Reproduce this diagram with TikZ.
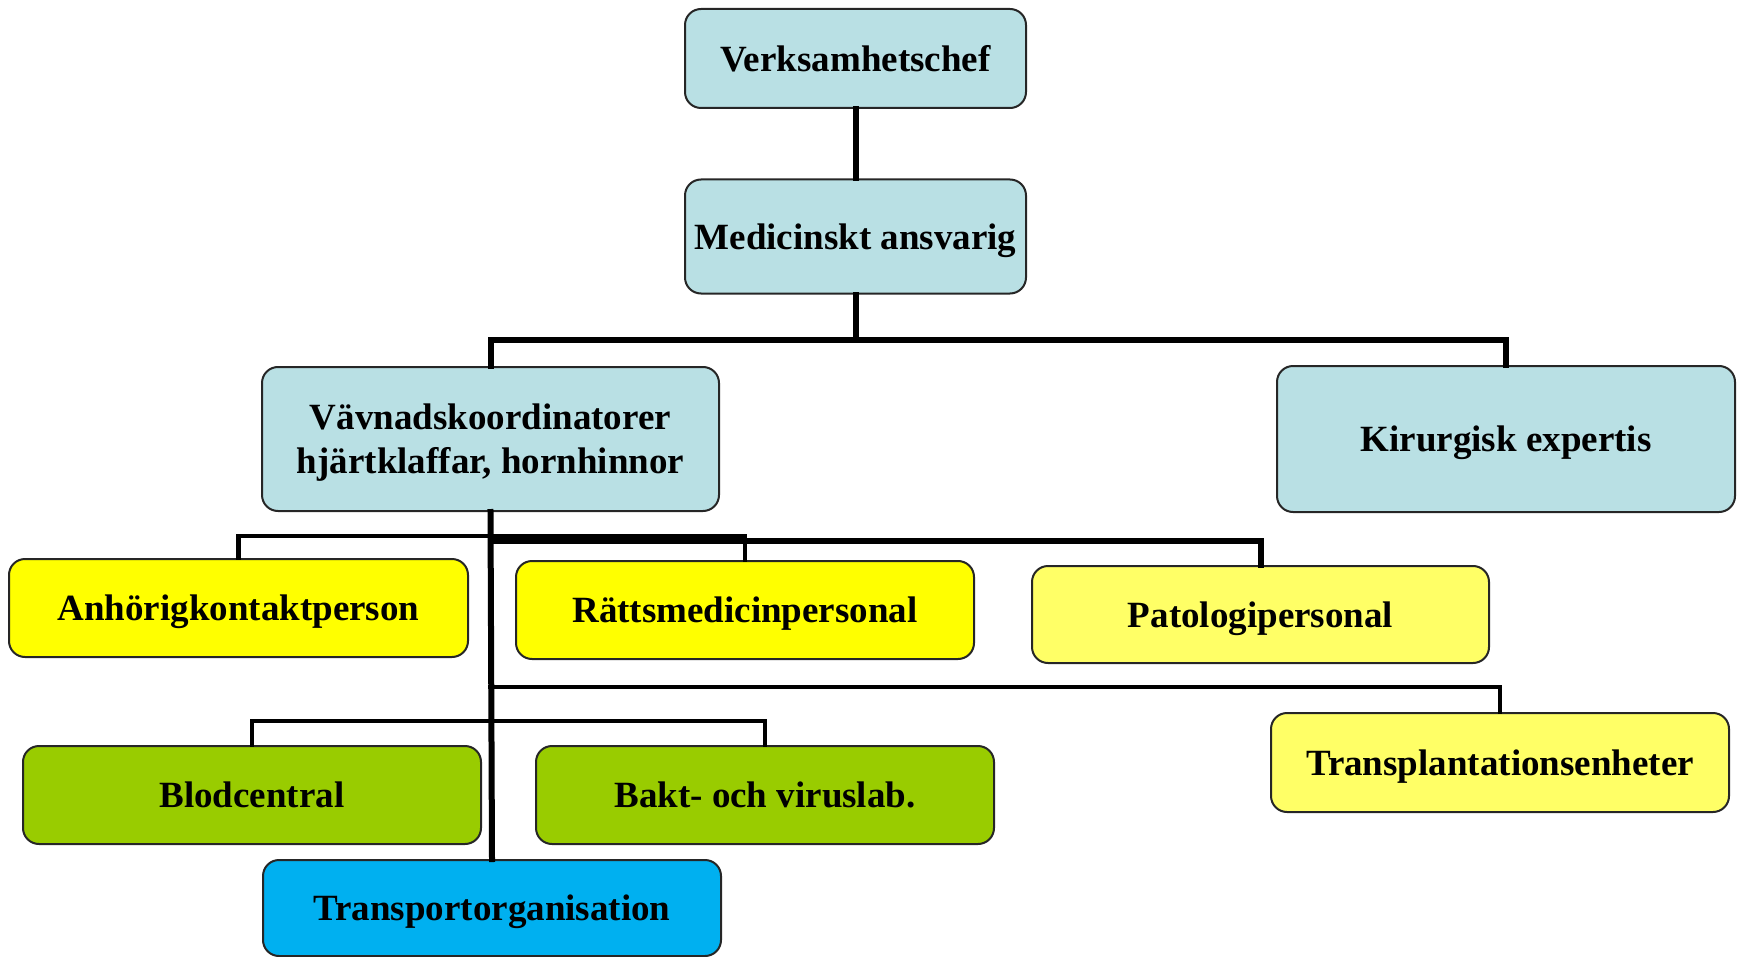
\documentclass[tikz,border=0pt]{standalone}
\usepackage{fontspec}
\setmainfont{Liberation Serif}
\definecolor{lblue}{RGB}{185,224,228}
\definecolor{yel}{RGB}{255,255,0}
\definecolor{lyel}{RGB}{255,255,102}
\definecolor{grn}{RGB}{153,204,0}
\definecolor{cyn}{RGB}{0,176,240}
\begin{document}
\begin{tikzpicture}[x=0.5pt,y=-0.5pt,
  box/.style={draw=black!85, line width=1pt, rounded corners=8pt, align=center,
    font=\fontsize{18.5pt}{22pt}\selectfont\bfseries, inner sep=0pt, text depth=0pt},
  conn/.style={line width=2.3pt, line cap=rect},
  connthick/.style={line width=3pt, line cap=rect}]
\useasboundingbox (0,0) rectangle (1739,957);
\node[box, fill=lblue, minimum width=170.5pt, minimum height=49.5pt] (vc) at (855.5,58.5) {Verksamhetschef};
\node[box, fill=lblue, minimum width=170.5pt, minimum height=57pt] (ma) at (855.5,236.5) {Medicinskt ansvarig};
\node[box, fill=lblue, minimum width=228.5pt, minimum height=72pt] (vk) at (490.5,439) {Vävnadskoordinatorer\\hjärtklaffar, hornhinnor};
\node[box, fill=lblue, minimum width=229pt, minimum height=73pt] (ke) at (1506,439) {Kirurgisk expertis};
\node[box, fill=yel, minimum width=229.5pt, minimum height=49pt] (an) at (238.5,608) {Anhörigkontaktperson};
\node[box, fill=yel, minimum width=229pt, minimum height=49pt] (rm) at (745,610) {Rättsmedicinpersonal};
\node[box, fill=lyel, minimum width=228.5pt, minimum height=48.5pt] (pa) at (1260.5,614.5) {Patologipersonal};
\node[box, fill=lyel, minimum width=229pt, minimum height=49.5pt] (tr) at (1500,762.5) {Transplantationsenheter};
\node[box, fill=grn, minimum width=229pt, minimum height=49pt] (bc) at (252,795) {Blodcentral};
\node[box, fill=grn, minimum width=229pt, minimum height=49pt] (bv) at (765,795) {Bakt- och viruslab.};
\node[box, fill=cyn, minimum width=229pt, minimum height=48pt] (to) at (492,908) {Transportorganisation};
\coordinate (j1) at (855.5,340);
\coordinate (j2) at (490.5,536);
\coordinate (j3) at (490.5,541);
\coordinate (j4) at (490.5,687);
\coordinate (j5) at (490.5,721);
\begin{scope}[on background layer/.try]
\draw[connthick] (vc.south) -- (ma.north);
\draw[connthick] (ma.south) -- (j1);
\draw[connthick] (vk.north) |- (j1) -| (ke.north);
\draw[connthick] (vk.south) -- (to.north);
\draw[conn] (an.north) |- (j2) -| (rm.north);
\draw[connthick] (j3) -| (pa.north);
\draw[conn] (j4) -| (tr.north);
\draw[conn] (bc.north) |- (j5) -| (bv.north);
\end{scope}
\end{tikzpicture}
\end{document}
